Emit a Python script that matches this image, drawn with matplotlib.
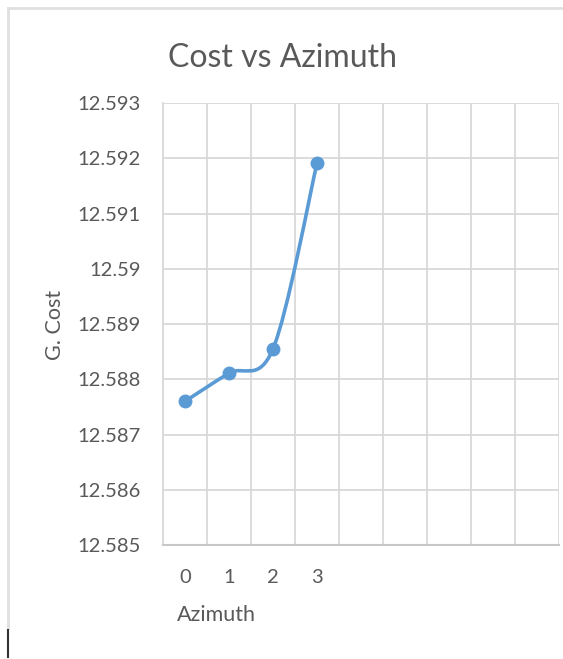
import matplotlib
matplotlib.use("Agg")
import matplotlib.pyplot as plt
from matplotlib.path import Path
from matplotlib.patches import PathPatch

# categories on the axis (Excel left 5 empty slots after the data)
categories = ["0", "1", "2", "3", "", "", "", "", ""]
azimuth_idx = [0, 1, 2, 3]
g_cost = [12.5876, 12.58811, 12.58855, 12.59191]

y_ticks = [12.585, 12.586, 12.587, 12.588, 12.589, 12.59, 12.591, 12.592, 12.593]
y_labels = ["12.585", "12.586", "12.587", "12.588", "12.589", "12.59",
            "12.591", "12.592", "12.593"]

BLUE = "#5b9bd5"
GRID = "#d9d9d9"
TEXT = "#595959"

plt.rcParams["font.family"] = ["Lato", "DejaVu Sans"]

W, H = 563, 659
fig = plt.figure(figsize=(W / 100, H / 100), dpi=100)
fig.patch.set_facecolor("white")

# chart frame (cropped screenshot: top and left border only)
fig.add_artist(plt.Line2D([8 / W, 1], [1 - 8 / H, 1 - 8 / H], color="#e0e0e0", lw=2))
fig.add_artist(plt.Line2D([8 / W, 8 / W], [1 - 8 / H, 1 - 628 / H], color="#e0e0e0", lw=2))
fig.add_artist(plt.Line2D([8 / W, 8 / W], [1 - 630 / H, 1 - 657 / H], color="#333333", lw=1.5))

left, right, top, bottom = 163, 559, 103, 545
ax = fig.add_axes([left / W, 1 - bottom / H, (right - left) / W, (bottom - top) / H])

ax.set_xlim(-0.5, len(categories) - 0.5)
ax.set_ylim(y_ticks[0], y_ticks[-1])

# smoothed line like Excel (Catmull-Rom style bezier)
pts = list(zip(azimuth_idx, g_cost))
verts = [pts[0]]
codes = [Path.MOVETO]
n = len(pts)
for i in range(n - 1):
    p0 = pts[i - 1] if i > 0 else pts[i]
    p1 = pts[i]
    p2 = pts[i + 1]
    p3 = pts[i + 2] if i + 2 < n else pts[i + 1]
    c1 = (p1[0] + (p2[0] - p0[0]) / 6, p1[1] + (p2[1] - p0[1]) / 6)
    c2 = (p2[0] - (p3[0] - p1[0]) / 6, p2[1] - (p3[1] - p1[1]) / 6)
    verts += [c1, c2, p2]
    codes += [Path.CURVE4] * 3
ax.add_patch(PathPatch(Path(verts, codes), facecolor="none", edgecolor=BLUE,
                       lw=2.6, capstyle="round", zorder=3))
ax.plot(azimuth_idx, g_cost, "o", color=BLUE, ms=9, zorder=4)

ax.set_xticks(range(len(categories)))
ax.set_xticklabels(categories, fontsize=14.5, color=TEXT)
ax.set_xticks([i - 0.5 for i in range(len(categories) + 1)], minor=True)
ax.set_yticks(y_ticks)
ax.set_yticklabels(y_labels, fontsize=14.5, color=TEXT)

ax.tick_params(axis="x", which="major", length=0, pad=17)
ax.tick_params(axis="x", which="minor", length=0)
ax.tick_params(axis="y", length=0, pad=16)
ax.grid(True, axis="x", which="minor", color=GRID, lw=1.3)
ax.grid(True, axis="y", which="major", color=GRID, lw=1.3)
ax.grid(False, axis="x", which="major")

for s in ["top", "right"]:
    ax.spines[s].set_visible(False)
ax.spines["left"].set_color(GRID)
ax.spines["left"].set_linewidth(1.3)
ax.spines["bottom"].set_color("#c8c8c8")
ax.spines["bottom"].set_linewidth(1.5)

fig.text(283 / W, 1 - 58 / H, "Cost vs Azimuth", ha="center", va="center",
         fontsize=23, color=TEXT)
fig.text(216 / W, 1 - 615 / H, "Azimuth", ha="center", va="center",
         fontsize=15.5, color=TEXT)
fig.text(55 / W, 1 - 325 / H, "G. Cost", ha="center", va="center",
         rotation=90, fontsize=15.5, color=TEXT)

fig.savefig("out.png", dpi=100)
